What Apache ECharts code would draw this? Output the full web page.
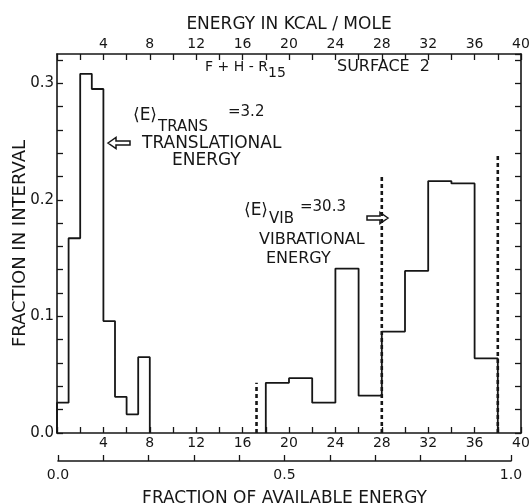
<!DOCTYPE html>
<html>
<head>
<meta charset="utf-8">
<script src="https://cdn.jsdelivr.net/npm/echarts@6/dist/echarts.min.js"></script>
<style>
  html, body { margin: 0; padding: 0; background: #fff; }
  #chart { width: 531px; height: 504px; }
</style>
</head>
<body>
<div id="chart"></div>
<script>
// Translational energy histogram: 1 kcal/mole bins
const transEdges = [0, 1, 2, 3, 4, 5, 6, 7, 8];
const transFraction = [0.026, 0.167, 0.308, 0.295, 0.096, 0.031, 0.016, 0.065];

// Vibrational energy histogram: 2 kcal/mole bins
const vibEdges = [18, 20, 22, 24, 26, 28, 30, 32, 34, 36, 38];
const vibFraction = [0.043, 0.047, 0.026, 0.141, 0.032, 0.087, 0.139, 0.216, 0.214, 0.064];

// Dotted reference lines (energy, height)
const refLineEnergy = [17.2, 28, 38];
const refLineTop = [0.043, 0.221, 0.240];

// Tick labels
const energyLabels = [4, 8, 12, 16, 20, 24, 28, 32, 36, 40];
const fractionIntervalLabels = [0.0, 0.1, 0.2, 0.3];
const availableLabels = [0.0, 0.5, 1.0];

const FONT = 'DejaVu Sans';
const INK = '#161616';

// Outline of a histogram as a stepped polyline
function histogramOutline(edges, values) {
  const pts = [[edges[0], 0]];
  values.forEach((v, i) => pts.push([edges[i], v]));
  pts.push([edges[edges.length - 1], values[values.length - 1]]);
  pts.push([edges[edges.length - 1], 0]);
  return pts;
}

function near(list, v) {
  return list.some(t => Math.abs(t - v) < 1e-7);
}

// Text placed by its left edge and vertical centre
function note(text, left, centerY, size) {
  return { type: 'text', left: left, top: Math.round(centerY - size / 2),
           style: { text: text, font: size + 'px ' + FONT, fill: INK } };
}

const axisLine = { show: true, onZero: false, lineStyle: { color: INK, width: 1.6 } };
const tickIn = { show: true, inside: true, length: 6, lineStyle: { color: INK, width: 1.3 } };
const labelStyle = { color: INK, fontFamily: FONT, fontSize: 14 };

const chart = echarts.init(document.getElementById('chart'), null, { renderer: 'canvas' });

const refSeries = refLineEnergy.map((x, i) => ({
  type: 'line',
  xAxisIndex: 0,
  yAxisIndex: 0,
  symbol: 'none',
  silent: true,
  data: [[x, 0], [x, refLineTop[i]]],
  lineStyle: { color: INK, width: 2.6, type: [4, 3] },
  z: 3
}));

const option = {
  backgroundColor: '#fff',
  animation: false,
  grid: [
    { left: 57, right: 10, top: 54, bottom: 71, containLabel: false, outerBoundsMode: 'none' },
    { left: 58, right: 20, top: 455, height: 6, containLabel: false, outerBoundsMode: 'none' }
  ],
  xAxis: [
    {
      gridIndex: 0, type: 'value', position: 'bottom', min: 0, max: 40, interval: 2,
      axisLine, axisTick: tickIn, splitLine: { show: false },
      axisLabel: Object.assign({ margin: 3, formatter: v => near(energyLabels, v) ? String(v) : '' }, labelStyle)
    },
    {
      gridIndex: 0, type: 'value', position: 'top', min: 0, max: 40, interval: 2,
      axisLine, axisTick: tickIn, splitLine: { show: false },
      axisLabel: Object.assign({ margin: 3, formatter: v => near(energyLabels, v) ? String(v) : '' }, labelStyle),
      name: 'ENERGY IN KCAL / MOLE', nameLocation: 'middle', nameGap: 21, nameMoveOverlap: false,
      nameTextStyle: { color: INK, fontFamily: FONT, fontSize: 17 }
    },
    {
      gridIndex: 1, type: 'value', position: 'bottom', min: 0, max: 1, interval: 0.1,
      axisLine, axisTick: tickIn, splitLine: { show: false },
      axisLabel: Object.assign({ margin: 7, formatter: v => near(availableLabels, v) ? v.toFixed(1) : '' }, labelStyle),
      name: 'FRACTION OF AVAILABLE ENERGY', nameLocation: 'middle', nameGap: 29, nameMoveOverlap: false,
      nameTextStyle: { color: INK, fontFamily: FONT, fontSize: 17 }
    }
  ],
  yAxis: [
    {
      gridIndex: 0, type: 'value', position: 'left', min: 0, max: 0.325, interval: 0.02,
      axisLine, axisTick: tickIn, splitLine: { show: false },
      axisLabel: Object.assign({}, labelStyle, { margin: 3, fontSize: 15, showMaxLabel: false,
        formatter: v => near(fractionIntervalLabels, v) ? v.toFixed(1) : '' }),
      name: 'FRACTION IN INTERVAL', nameLocation: 'middle', nameRotate: 90, nameGap: 28,
      nameMoveOverlap: false,
      nameTextStyle: { color: INK, fontFamily: FONT, fontSize: 18 }
    },
    {
      gridIndex: 0, type: 'value', position: 'right', min: 0, max: 0.325, interval: 0.02,
      axisLine, axisTick: tickIn, splitLine: { show: false }, axisLabel: { show: false }
    },
    { gridIndex: 1, type: 'value', min: 0, max: 1, show: false }
  ],
  series: [
    {
      type: 'line', xAxisIndex: 0, yAxisIndex: 0, step: 'end', symbol: 'none', silent: true,
      data: histogramOutline(transEdges, transFraction),
      lineStyle: { color: INK, width: 1.8 }, z: 4
    },
    {
      type: 'line', xAxisIndex: 0, yAxisIndex: 0, step: 'end', symbol: 'none', silent: true,
      data: histogramOutline(vibEdges, vibFraction),
      lineStyle: { color: INK, width: 1.8 }, z: 4
    }
  ].concat(refSeries),
  graphic: [
    // system / surface caption
    note('F + H - R', 205, 67, 14),
    note('15', 268, 73, 14),
    note('SURFACE  2', 337, 67, 16),

    // mean translational energy
    note('\u27E8E\u27E9', 133, 115, 17),
    note('TRANS', 158, 127, 15),
    note('=3.2', 228, 112, 15),
    note('TRANSLATIONAL', 142, 143, 17),
    note('ENERGY', 172, 160, 17),
    {
      type: 'polygon',
      shape: { points: [[108, 143], [116, 137.5], [116, 141], [130, 141], [130, 145], [116, 145], [116, 148.5]] },
      style: { fill: 'none', stroke: INK, lineWidth: 1.5 }
    },

    // mean vibrational energy
    note('\u27E8E\u27E9', 244, 210, 17),
    note('VIB', 269, 219, 15),
    note('=30.3', 300, 207, 15),
    note('VIBRATIONAL', 259, 240, 16),
    note('ENERGY', 266, 259, 16),
    {
      type: 'polygon',
      shape: { points: [[388, 218], [380, 212.5], [380, 216], [367, 216], [367, 220], [380, 220], [380, 223.5]] },
      style: { fill: 'none', stroke: INK, lineWidth: 1.5 }
    }
  ]
};

chart.setOption(option);
</script>
</body>
</html>
